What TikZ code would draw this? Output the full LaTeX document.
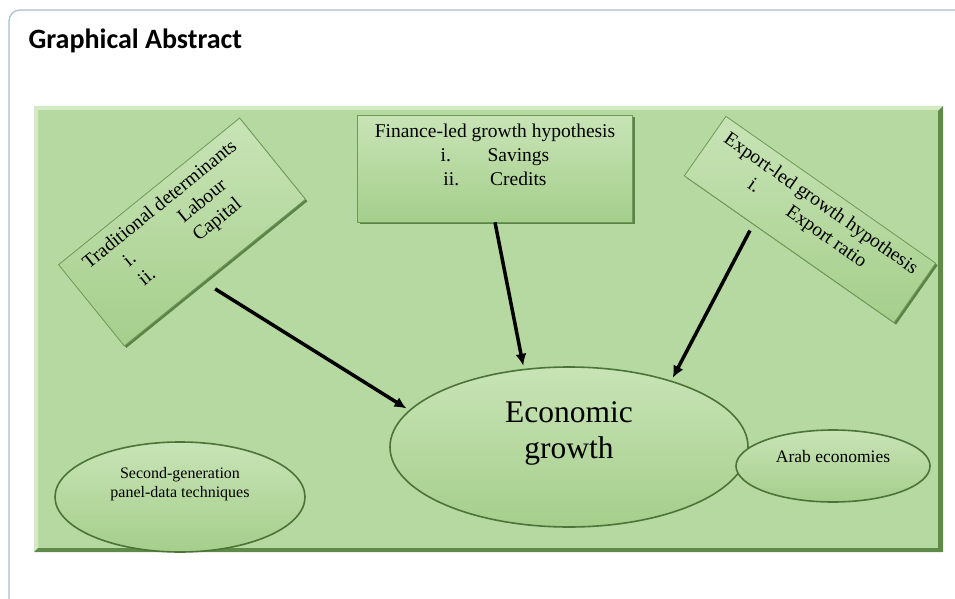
\documentclass[tikz,border=0pt]{standalone}
\usepackage{fontspec}
\setmainfont{Liberation Serif}
\newfontfamily\headfont{Carlito}
\usepackage{tikz}
\usetikzlibrary{arrows.meta}
\usetikzlibrary{shapes.geometric}
\usetikzlibrary{shadows}

\definecolor{framegray}{HTML}{A9BCD0}
\definecolor{panelgreen}{HTML}{B5D9A0}
\definecolor{panellight}{HTML}{D3EAC4}
\definecolor{paneldark}{HTML}{5E8C48}
\definecolor{boxtop}{HTML}{C8E4B6}
\definecolor{boxbottom}{HTML}{A5CE8B}
\definecolor{boxedge}{HTML}{6E9A57}
\definecolor{boxshadow}{HTML}{4C7438}

\newcommand{\lstitem}[3][2.4em]{\makebox[#1][l]{#2}#3}

\begin{document}
\begin{tikzpicture}[x=1pt, y=-1pt,
    box/.style={rectangle, draw=boxedge, line width=0.8pt, top color=boxtop, bottom color=boxbottom,
      drop shadow={shadow xshift=2pt, shadow yshift=-2pt, fill=boxshadow, opacity=0.85},
      align=center, inner xsep=4pt, inner ysep=9pt, font=\fontsize{19.5}{24}\selectfont},
    oval/.style={ellipse, draw=boxshadow, line width=1.6pt, top color=boxtop, bottom color=boxbottom,
      inner sep=0pt, align=center},
    link/.style={line width=3.5pt, -{Latex[length=12pt, width=11pt]}, shorten >=3pt}]
  \useasboundingbox (0,0) rectangle (955,599);
  \draw[framegray, line width=1.2pt, rounded corners=11pt] (9,600) -- (9,10) -- (960,10);
  \node (title) at (25,49) [anchor=base west, font=\headfont\bfseries\fontsize{28}{32}\selectfont] {Graphical Abstract};

  \fill[panelgreen] (34,106) rectangle (943,552);
  \fill[panellight] (34,106) -- (943,106) -- (939,110) -- (38,110) -- (38,548) -- (34,552) -- cycle;
  \fill[paneldark] (943,106) -- (943,552) -- (34,552) -- (38,548) -- (938,548) -- (938,111) -- cycle;

  \node (fin) at (495,115) [box, anchor=north, minimum width=275pt, text depth=27pt]
    {Finance-led growth hypothesis\\ \lstitem{i.}{Savings}\\ \lstitem{ii.}{Credits}};
  \node (trad) at (182,232) [box, rotate=39, minimum width=233pt, text depth=25pt]
    {Traditional determinants\\ \lstitem[3.6em]{i.}{Labour}\\ \lstitem[3.6em]{ii.}{Capital}};
  \node (exp) at (810,219.5) [box, rotate=-35, minimum width=256pt, text depth=17pt]
    {Export-led growth hypothesis\\ \lstitem{i.}{Export ratio}};

  \node (growth) at (569,447) [oval, minimum width=358pt, minimum height=160pt, text depth=33pt,
    font=\fontsize{31.5}{36}\selectfont] {Economic\\growth};
  \node (panel) at (180,497) [oval, minimum width=250pt, minimum height=110pt, text depth=30pt,
    font=\fontsize{16}{19}\selectfont] {Second-generation\\panel-data techniques};
  \node (arab) at (833,466) [oval, minimum width=194pt, minimum height=72pt, text depth=20pt,
    font=\fontsize{17.5}{21}\selectfont] {Arab economies};

  \draw[link] ([yshift=-16pt]trad.south) -- (growth.167);
  \draw[link] (fin.south) -- (growth.120);
  \draw[link] ([xshift=-39pt, yshift=19pt]exp.south) -- (growth.33);
\end{tikzpicture}
\end{document}
